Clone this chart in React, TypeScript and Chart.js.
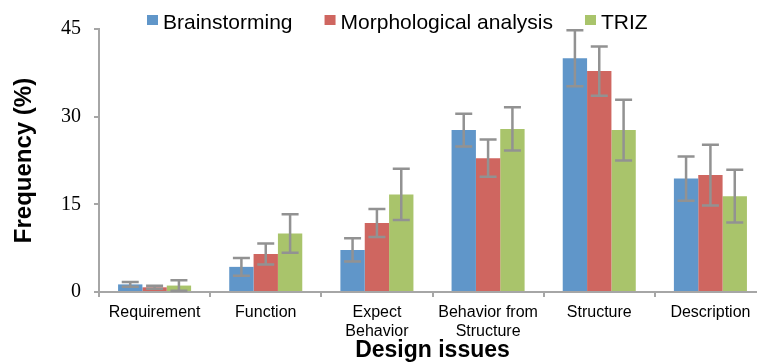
import React, { useEffect, useRef } from "react";
import { Chart, registerables } from "chart.js";

Chart.register(...registerables);

const categories: (string | string[])[] = [
  "Requirement",
  "Function",
  ["Expect", "Behavior"],
  ["Behavior from", "Structure"],
  "Structure",
  "Description",
];
const seriesNames = ["Brainstorming", "Morphological analysis", "TRIZ"];
const brainstorming = [1.3, 4.3, 7.2, 27.7, 40.0, 19.4];
const morphological = [0.8, 6.5, 11.8, 22.9, 37.8, 20.0];
const triz = [1.1, 10.0, 16.7, 27.9, 27.7, 16.4];
const brainstormingErr = [0.4, 1.5, 2.0, 2.8, 4.8, 3.8];
const morphologicalErr = [0.25, 1.8, 2.4, 3.2, 4.2, 5.2];
const trizErr = [0.9, 3.3, 4.4, 3.7, 5.2, 4.5];
const yTicks = [0, 15, 30, 45];

const colors = ["#6096C9", "#CF6660", "#A9C46B"];
const errors = [brainstormingErr, morphologicalErr, trizErr];
const SANS = "'Liberation Sans', Arial, sans-serif";
const SERIF = "'Liberation Serif', 'Times New Roman', serif";

const errorBarPlugin = {
  id: "errorBars",
  afterDatasetsDraw(chart: any) {
    const ctx = chart.ctx;
    const yScale = chart.scales.y;
    ctx.save();
    ctx.strokeStyle = "#929292";
    ctx.lineWidth = 2.5;
    chart.data.datasets.forEach((ds: any, di: number) => {
      const meta = chart.getDatasetMeta(di);
      meta.data.forEach((bar: any, i: number) => {
        const v = ds.data[i];
        const e = errors[di][i];
        const x = bar.x;
        const yTop = yScale.getPixelForValue(v + e);
        const yBot = yScale.getPixelForValue(Math.max(0, v - e));
        const cap = 8.5;
        ctx.beginPath();
        ctx.moveTo(x, yTop);
        ctx.lineTo(x, yBot);
        ctx.moveTo(x - cap, yTop);
        ctx.lineTo(x + cap, yTop);
        ctx.moveTo(x - cap, yBot);
        ctx.lineTo(x + cap, yBot);
        ctx.stroke();
      });
    });
    ctx.restore();
  },
};

const decorPlugin = {
  id: "decor",
  afterDraw(chart: any) {
    const ctx = chart.ctx;
    const area = chart.chartArea;
    ctx.save();
    // legend
    ctx.font = `21px ${SANS}`;
    ctx.textBaseline = "alphabetic";
    ctx.textAlign = "left";
    let x = 147;
    seriesNames.forEach((name, i) => {
      ctx.fillStyle = colors[i];
      ctx.fillRect(x, 15, 11, 10);
      ctx.fillStyle = "#000";
      ctx.fillText(name, x + 16, 29);
      x += 16 + ctx.measureText(name).width + 32;
    });
    // x title
    ctx.font = `bold 23px ${SANS}`;
    ctx.textAlign = "center";
    ctx.fillText("Design issues", (area.left + area.right) / 2, 357);
    // y title
    ctx.translate(24, (area.top + area.bottom) / 2);
    ctx.rotate(-Math.PI / 2);
    ctx.font = `bold 24px ${SANS}`;
    ctx.textBaseline = "middle";
    ctx.fillText("Frequency (%)", 0, 0);
    ctx.restore();
  },
};

export default function App() {
  const ref = useRef<HTMLCanvasElement | null>(null);
  useEffect(() => {
    if (!ref.current) return;
    const seriesData = [brainstorming, morphological, triz];
    const chart = new Chart(ref.current, {
      type: "bar",
      data: {
        labels: categories as any,
        datasets: seriesNames.map((name, i) => ({
          label: name,
          data: seriesData[i],
          backgroundColor: colors[i],
          borderWidth: 0,
          categoryPercentage: 0.657,
          barPercentage: 1,
        })),
      },
      options: {
        animation: false,
        responsive: true,
        maintainAspectRatio: false,
        layout: { padding: { top: 29, left: 0, right: 0, bottom: 0 } },
        plugins: { legend: { display: false }, tooltip: { enabled: false } },
        scales: {
          x: {
            grid: {
              drawOnChartArea: false,
              drawTicks: true,
              tickLength: 5,
              color: "#a6a6a6",
              lineWidth: 2,
              offset: true,
            },
            border: { display: true, color: "#a6a6a6", width: 2 },
            ticks: {
              font: { family: SANS, size: 16 },
              color: "#000",
              padding: 6,
              maxRotation: 0,
              autoSkip: false,
            },
            afterFit: (s: any) => {
              s.height = 71;
            },
          },
          y: {
            min: 0,
            max: 45,
            afterBuildTicks: (s: any) => {
              s.ticks = yTicks.map((v) => ({ value: v }));
            },
            grid: {
              drawOnChartArea: false,
              drawTicks: true,
              tickLength: 5,
              color: "#a6a6a6",
              lineWidth: 2,
            },
            border: { display: true, color: "#a6a6a6", width: 2 },
            ticks: {
              font: { family: SERIF, size: 20 },
              color: "#000",
              padding: 13,
            },
            afterFit: (s: any) => {
              s.width = 99;
            },
          },
        },
      },
      plugins: [errorBarPlugin, decorPlugin],
    });
    return () => chart.destroy();
  }, []);
  return (
    <div
      style={{
        position: "fixed",
        left: 0,
        top: 0,
        width: 757,
        height: 363,
        overflow: "hidden",
        background: "#fff",
      }}
    >
      <div style={{ position: "relative", width: 766, height: 363 }}>
        <canvas ref={ref} />
      </div>
    </div>
  );
}
